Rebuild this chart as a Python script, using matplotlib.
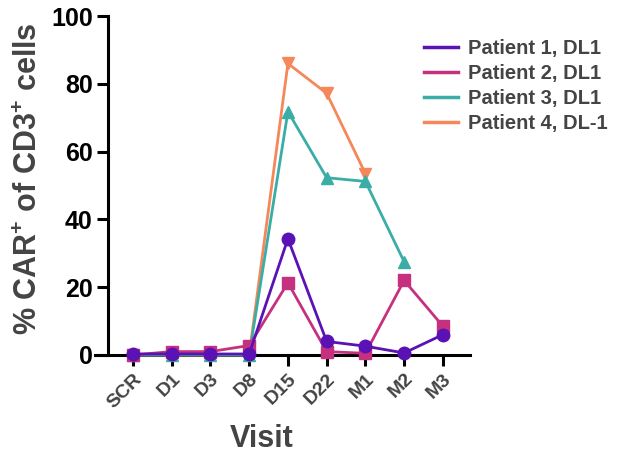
import numpy as np
import matplotlib
matplotlib.use("Agg")
import matplotlib.pyplot as plt
from matplotlib.lines import Line2D

plt.rcParams['font.family'] = ['Liberation Sans', 'DejaVu Sans']
plt.rcParams['font.weight'] = 'bold'
plt.rcParams['mathtext.fontset'] = 'custom'
plt.rcParams['mathtext.rm'] = 'Liberation Sans:bold'
plt.rcParams['mathtext.bf'] = 'Liberation Sans:bold'

visits = ["SCR", "D1", "D3", "D8", "D15", "D22", "M1", "M2", "M3"]
nan = np.nan
patient1 = [0.3, 0.3, 0.3, 0.3, 34.3, 4.0, 2.6, 0.6, 6.0]
patient2 = [0.0, 1.0, 1.0, 2.8, 21.3, 1.0, 0.5, 22.0, 8.5]
patient3 = [0.0, 0.0, 0.0, 0.0, 71.8, 52.3, 51.2, 27.5, nan]
patient4 = [0.0, 0.0, 0.0, 0.0, 86.0, 77.2, 53.5, nan, nan]

labels = ["Patient 1, DL1", "Patient 2, DL1", "Patient 3, DL1", "Patient 4, DL-1"]
colors = ["#5a12b5", "#c5307f", "#3aaea6", "#f5875a"]
markers = ["o", "s", "^", "v"]
series = [patient1, patient2, patient3, patient4]

fig = plt.figure(figsize=(6.28, 4.57), dpi=100)
ax = fig.add_axes([95 / 628, 1 - 355 / 457, (470 - 95) / 628, (355 - 16) / 457])

x = np.arange(len(visits))
for i in [3, 2, 1, 0]:
    ax.plot(x, series[i], color=colors[i], marker=markers[i], markersize=9,
            linewidth=2, label=labels[i], clip_on=False, zorder=3 + (3 - i))

ax.set_xlim(-0.98, 8.70)
ax.set_ylim(0, 100)
ax.set_xticks(x)
ax.set_xticklabels(visits, rotation=45, ha='right', rotation_mode='anchor',
                   fontsize=14, color='#444444')
ax.set_yticks([0, 20, 40, 60, 80, 100])
ax.tick_params(axis='y', labelsize=18, width=2.2, length=8, colors='black', pad=3)
ax.tick_params(axis='x', width=2.2, length=8, pad=3)
for t in ax.get_yticklabels():
    t.set_fontweight('bold')

for s in ['top', 'right']:
    ax.spines[s].set_visible(False)
ax.spines['left'].set_position(('data', -0.645))
ax.spines['left'].set_linewidth(2.2)
ax.spines['bottom'].set_linewidth(2.2)

ax.set_ylabel("% CAR$^{+}$ of CD3$^{+}$ cells", fontsize=22, color='#444444',
              fontweight='bold')
ax.yaxis.set_label_coords(-0.136, 0.52)
ax.set_xlabel("Visit", fontsize=22, color='#444444', fontweight='bold')
ax.xaxis.set_label_coords(0.445, -0.205)

leg_handles = [Line2D([0], [0], color=c, linewidth=2.5) for c in colors]
leg = fig.legend(leg_handles, labels, loc='upper left', bbox_to_anchor=(424 / 628, 1 - 39 / 457),
                 frameon=False, fontsize=14.5, handlelength=1.7, handletextpad=0.5,
                 labelspacing=0.3, borderaxespad=0, borderpad=0)
for t in leg.get_texts():
    t.set_color('#444444')
    t.set_fontweight('bold')

fig.savefig("out.png", dpi=100)
